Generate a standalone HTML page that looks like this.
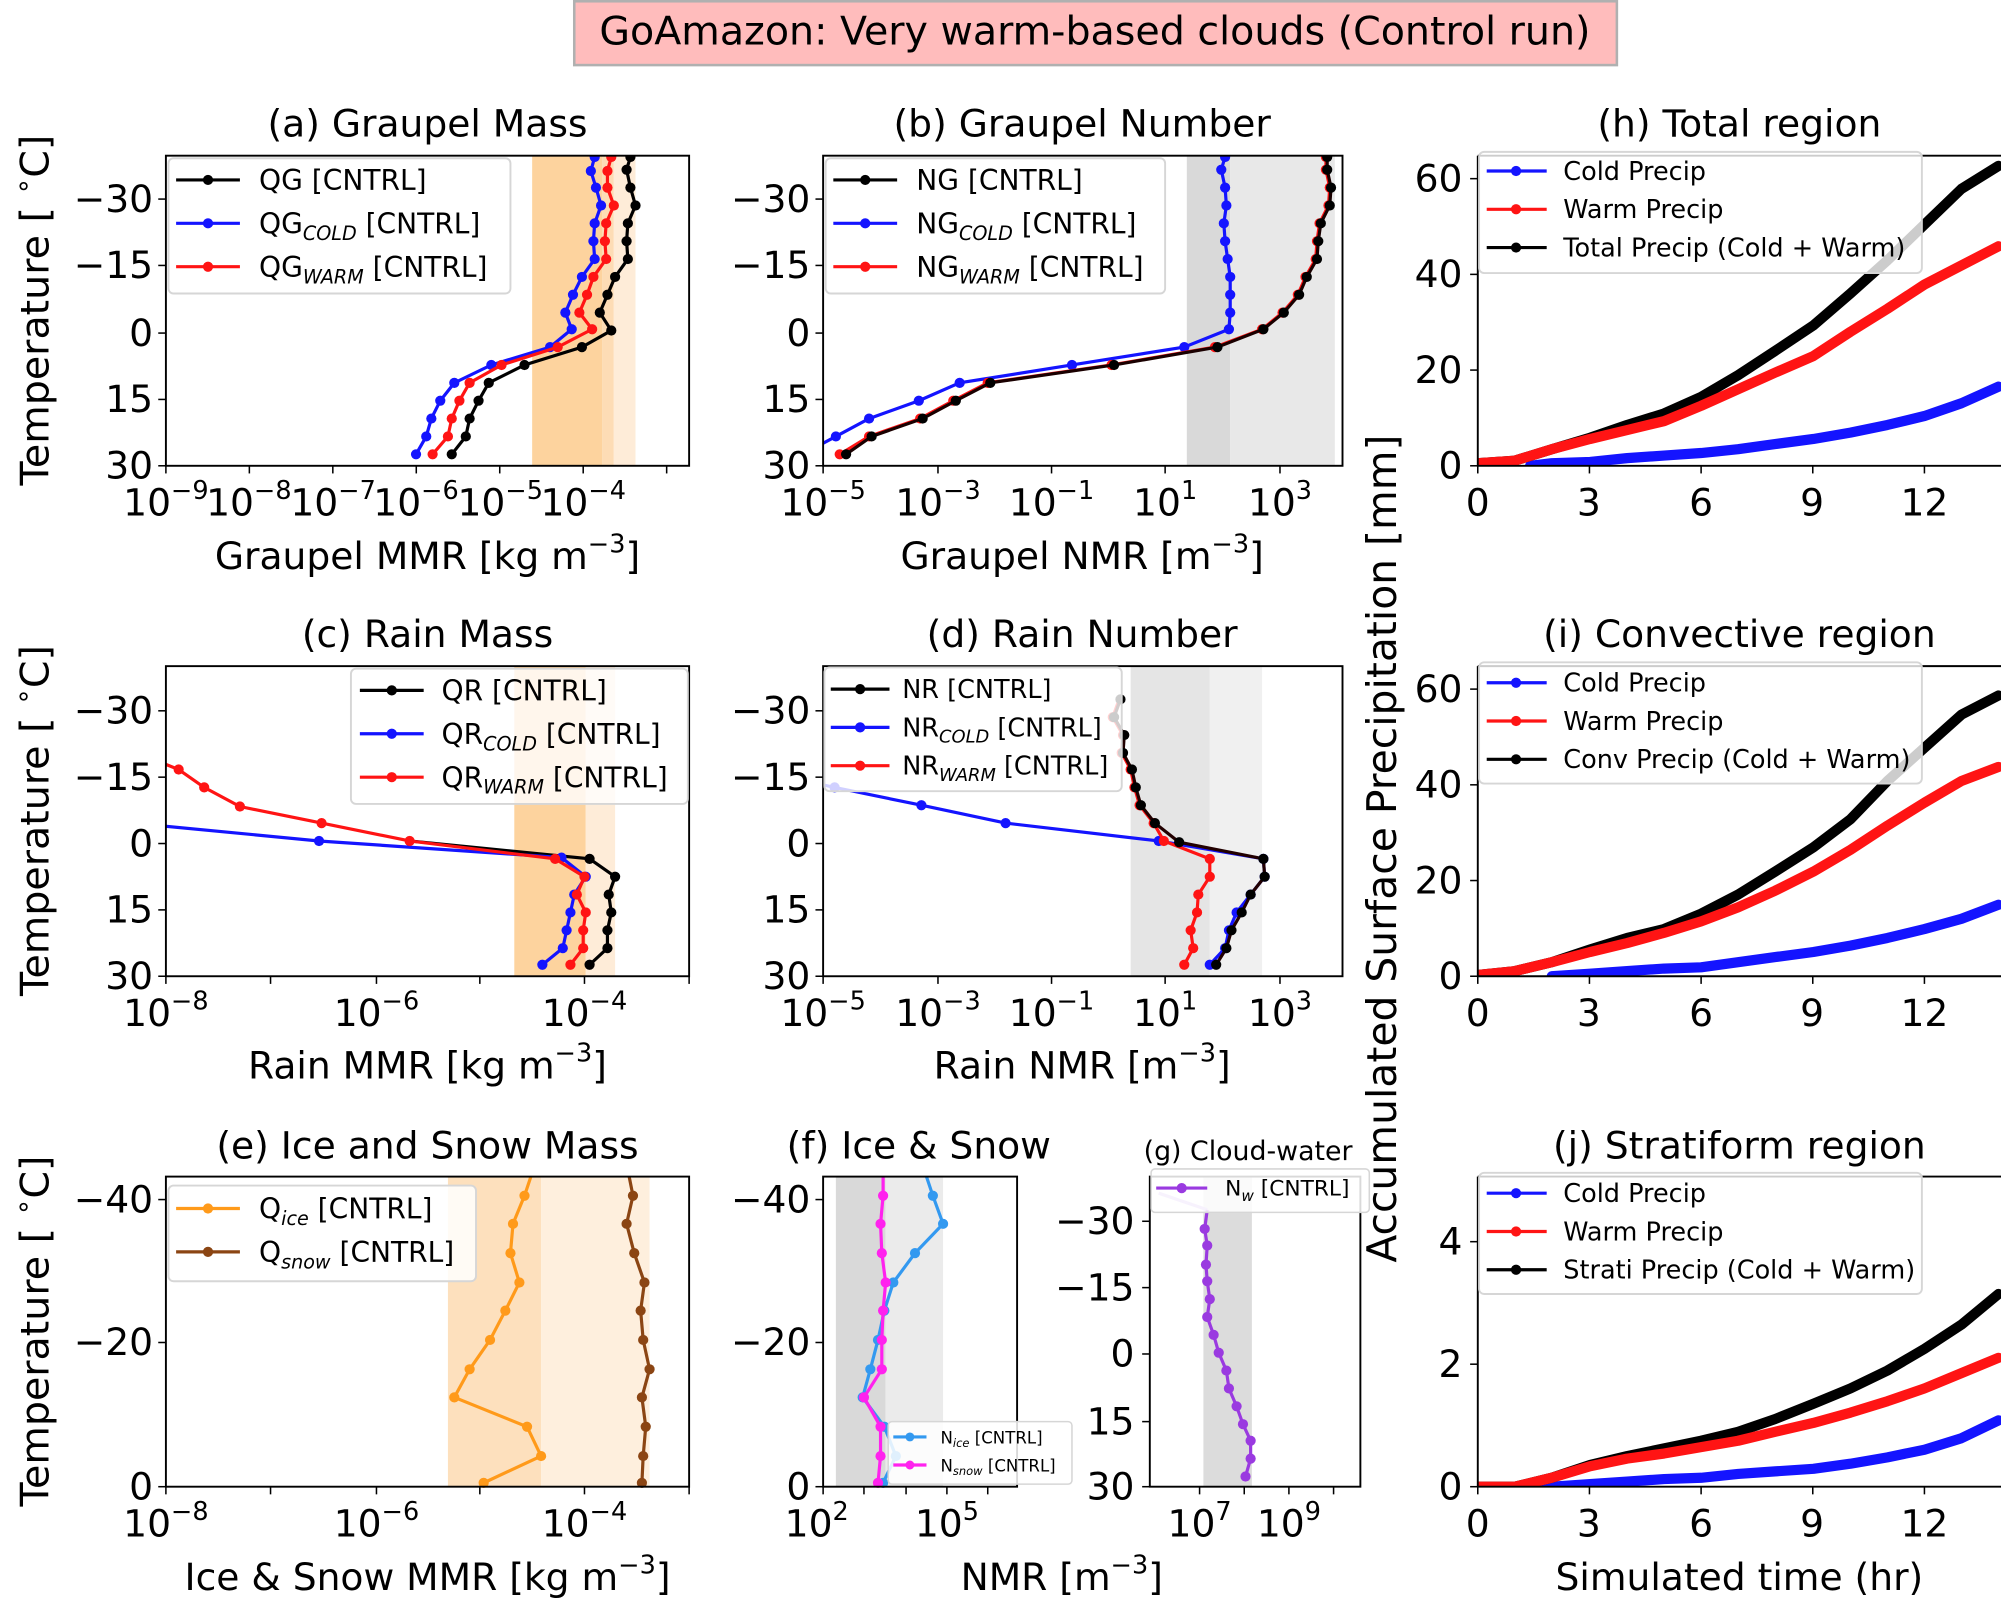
<!DOCTYPE html>
<html><head><meta charset="utf-8"><style>html,body{margin:0;padding:0;background:#fff}svg{display:block}</style></head>
<body>
<svg width="2001" height="1599" viewBox="0 0 1568 1253" preserveAspectRatio="none" xmlns="http://www.w3.org/2000/svg" font-family="'DejaVu Sans','Liberation Sans',sans-serif">
<defs>
<marker id="mK" markerUnits="userSpaceOnUse" markerWidth="10" markerHeight="10" refX="5" refY="5"><circle cx="5" cy="5" r="4" fill="#000"/></marker>
<marker id="mB" markerUnits="userSpaceOnUse" markerWidth="10" markerHeight="10" refX="5" refY="5"><circle cx="5" cy="5" r="4" fill="#1414ff"/></marker>
<marker id="mR" markerUnits="userSpaceOnUse" markerWidth="10" markerHeight="10" refX="5" refY="5"><circle cx="5" cy="5" r="4" fill="#ff1414"/></marker>
<marker id="mO" markerUnits="userSpaceOnUse" markerWidth="10" markerHeight="10" refX="5" refY="5"><circle cx="5" cy="5" r="4" fill="#ff9a1a"/></marker>
<marker id="mN" markerUnits="userSpaceOnUse" markerWidth="10" markerHeight="10" refX="5" refY="5"><circle cx="5" cy="5" r="4" fill="#8b4513"/></marker>
<marker id="mD" markerUnits="userSpaceOnUse" markerWidth="10" markerHeight="10" refX="5" refY="5"><circle cx="5" cy="5" r="4" fill="#3399f0"/></marker>
<marker id="mM" markerUnits="userSpaceOnUse" markerWidth="10" markerHeight="10" refX="5" refY="5"><circle cx="5" cy="5" r="4" fill="#ff22ee"/></marker>
<marker id="mP" markerUnits="userSpaceOnUse" markerWidth="10" markerHeight="10" refX="5" refY="5"><circle cx="5" cy="5" r="4" fill="#9a3ae0"/></marker>
<clipPath id="ca"><rect x="130" y="122" width="410" height="243"/></clipPath>
<clipPath id="cb"><rect x="645" y="122" width="407" height="243"/></clipPath>
<clipPath id="cc"><rect x="130" y="522" width="410" height="243"/></clipPath>
<clipPath id="cd"><rect x="645" y="522" width="407" height="243"/></clipPath>
<clipPath id="ch"><rect x="1158" y="122" width="410" height="243"/></clipPath>
<clipPath id="ci"><rect x="1158" y="522" width="410" height="243"/></clipPath>
<clipPath id="cj"><rect x="1158" y="922" width="410" height="243"/></clipPath>
</defs>

<!-- Suptitle -->
<rect x="450" y="1" width="817" height="50" fill="#ffbcbc" stroke="#b0b0b0" stroke-width="2"/>
<text x="858" y="35" font-size="31" text-anchor="middle">GoAmazon: Very warm-based clouds (Control run)</text>

<g font-size="29.5" fill="#000">
<!-- ============ (a) ============ -->
<text x="335" y="107" text-anchor="middle">(a) Graupel Mass</text>
<rect x="417" y="122" width="55" height="243" fill="#fdd39e"/>
<rect x="472" y="122" width="9" height="243" fill="#fddcb5"/>
<rect x="481" y="122" width="17" height="243" fill="#feecd8"/>
<g clip-path="url(#ca)" fill="none" stroke-width="2.5">
<polyline stroke="#1414ff" marker-start="url(#mB)" marker-mid="url(#mB)" marker-end="url(#mB)" points="466,123 463,134 467,147 471,161 466,175 465,189 466,203 456,217 449,231 443,245 448,258 431,272 385,286 356,300 345,314 338,328 334,342 326,356"/>
<polyline stroke="#ff1414" marker-start="url(#mR)" marker-mid="url(#mR)" marker-end="url(#mR)" points="479,123 476,134 476,147 481,161 475,175 474,189 475,203 465,217 460,231 454,245 464,258 437,272 393,286 368,300 360,314 354,328 351,342 339,356"/>
<polyline stroke="#000" marker-start="url(#mK)" marker-mid="url(#mK)" marker-end="url(#mK)" points="494,123 491,133 494,147 498,161 492,175 491,189 492,203 482,217 476,231 470,245 479,259 456,272 411,286 383,300 375,314 368,328 365,342 354,356"/>
</g>
<rect x="130" y="122" width="410" height="243" fill="none" stroke="#000" stroke-width="1.5"/>
<g stroke="#000" stroke-width="1.2"><line x1="124" y1="156" x2="130" y2="156"/><line x1="124" y1="208" x2="130" y2="208"/><line x1="124" y1="261" x2="130" y2="261"/><line x1="124" y1="313" x2="130" y2="313"/><line x1="124" y1="365" x2="130" y2="365"/>
<line x1="130" y1="365" x2="130" y2="371"/><line x1="195.4" y1="365" x2="195.4" y2="371"/><line x1="260.8" y1="365" x2="260.8" y2="371"/><line x1="326.2" y1="365" x2="326.2" y2="371"/><line x1="391.6" y1="365" x2="391.6" y2="371"/><line x1="457" y1="365" x2="457" y2="371"/><line x1="522.4" y1="365" x2="522.4" y2="371"/></g>
<g text-anchor="end"><text x="120" y="166">−30</text><text x="120" y="218">−15</text><text x="120" y="271">0</text><text x="120" y="323">15</text><text x="120" y="375">30</text></g>
<g text-anchor="middle"><text x="130" y="404">10<tspan font-size="20" dy="-13">−9</tspan></text><text x="195" y="404">10<tspan font-size="20" dy="-13">−8</tspan></text><text x="261" y="404">10<tspan font-size="20" dy="-13">−7</tspan></text><text x="326" y="404">10<tspan font-size="20" dy="-13">−6</tspan></text><text x="392" y="404">10<tspan font-size="20" dy="-13">−5</tspan></text><text x="457" y="404">10<tspan font-size="20" dy="-13">−4</tspan></text></g>
<text x="335" y="446" text-anchor="middle">Graupel MMR [kg m<tspan font-size="20" dy="-13">−3</tspan><tspan dy="13">]</tspan></text>
<text transform="translate(38,243) rotate(-90)" text-anchor="middle" font-size="31">Temperature [ <tspan font-size="21" dy="-13">∘</tspan><tspan dy="13">C]</tspan></text>
<rect x="132" y="124" width="268" height="106" rx="4" fill="#fff" fill-opacity="0.85" stroke="#d6d6d6" stroke-width="1.5"/>
<g font-size="22">
<line x1="138" y1="141" x2="188" y2="141" stroke="#000" stroke-width="2.5"/><circle cx="163" cy="141" r="4"/>
<text x="203" y="149">QG [CNTRL]</text>
<line x1="138" y1="175" x2="188" y2="175" stroke="#1414ff" stroke-width="2.5"/><circle cx="163" cy="175" r="4" fill="#1414ff"/>
<text x="203" y="183">QG<tspan font-size="15" font-style="italic" dy="5">COLD</tspan><tspan dy="-5"> [CNTRL]</tspan></text>
<line x1="138" y1="209" x2="188" y2="209" stroke="#ff1414" stroke-width="2.5"/><circle cx="163" cy="209" r="4" fill="#ff1414"/>
<text x="203" y="217">QG<tspan font-size="15" font-style="italic" dy="5">WARM</tspan><tspan dy="-5"> [CNTRL]</tspan></text>
</g>

<!-- ============ (b) ============ -->
<text x="848" y="107" text-anchor="middle">(b) Graupel Number</text>
<rect x="930" y="122" width="34" height="243" fill="#d9d9d9"/>
<rect x="964" y="122" width="82" height="243" fill="#e8e8e8"/>
<g clip-path="url(#cb)" fill="none" stroke-width="2.5">
<polyline stroke="#1414ff" marker-start="url(#mB)" marker-mid="url(#mB)" points="960,123 957,133 960,147 961,161 959,175 960,189 962,203 964,217 964,231 964,245 963,258 928,272 840,286 752,300 720,314 681,328 655,342 640,350"/>
<polyline stroke="#ff1414" marker-start="url(#mR)" marker-mid="url(#mR)" marker-end="url(#mR)" points="1039,123 1039,133 1042,147 1041,161 1034,175 1032,189 1031,203 1023,217 1017,231 1005,245 989,258 952,272 871,286 774,300 747,314 721,328 681,342 658,356"/>
<polyline stroke="#1a0000" marker-start="url(#mK)" marker-mid="url(#mK)" marker-end="url(#mK)" points="1040,123 1040,133 1043,147 1042,161 1035,175 1033,189 1032,203 1024,217 1018,231 1006,245 990,258 954,272 873,286 776,300 749,314 723,328 683,342 663,356"/>
</g>
<rect x="645" y="122" width="407" height="243" fill="none" stroke="#000" stroke-width="1.5"/>
<g stroke="#000" stroke-width="1.2"><line x1="639" y1="156" x2="645" y2="156"/><line x1="639" y1="208" x2="645" y2="208"/><line x1="639" y1="261" x2="645" y2="261"/><line x1="639" y1="313" x2="645" y2="313"/><line x1="639" y1="365" x2="645" y2="365"/>
<line x1="645" y1="365" x2="645" y2="371"/><line x1="735" y1="365" x2="735" y2="371"/><line x1="824" y1="365" x2="824" y2="371"/><line x1="913" y1="365" x2="913" y2="371"/><line x1="1003" y1="365" x2="1003" y2="371"/></g>
<g text-anchor="end"><text x="635" y="166">−30</text><text x="635" y="218">−15</text><text x="635" y="271">0</text><text x="635" y="323">15</text><text x="635" y="375">30</text></g>
<g text-anchor="middle"><text x="645" y="404">10<tspan font-size="20" dy="-13">−5</tspan></text><text x="735" y="404">10<tspan font-size="20" dy="-13">−3</tspan></text><text x="824" y="404">10<tspan font-size="20" dy="-13">−1</tspan></text><text x="913" y="404">10<tspan font-size="20" dy="-13">1</tspan></text><text x="1003" y="404">10<tspan font-size="20" dy="-13">3</tspan></text></g>
<text x="848" y="446" text-anchor="middle">Graupel NMR [m<tspan font-size="20" dy="-13">−3</tspan><tspan dy="13">]</tspan></text>
<rect x="647" y="124" width="266" height="106" rx="4" fill="#fff" fill-opacity="0.85" stroke="#d6d6d6" stroke-width="1.5"/>
<g font-size="22">
<line x1="653" y1="141" x2="703" y2="141" stroke="#000" stroke-width="2.5"/><circle cx="678" cy="141" r="4"/>
<text x="718" y="149">NG [CNTRL]</text>
<line x1="653" y1="175" x2="703" y2="175" stroke="#1414ff" stroke-width="2.5"/><circle cx="678" cy="175" r="4" fill="#1414ff"/>
<text x="718" y="183">NG<tspan font-size="15" font-style="italic" dy="5">COLD</tspan><tspan dy="-5"> [CNTRL]</tspan></text>
<line x1="653" y1="209" x2="703" y2="209" stroke="#ff1414" stroke-width="2.5"/><circle cx="678" cy="209" r="4" fill="#ff1414"/>
<text x="718" y="217">NG<tspan font-size="15" font-style="italic" dy="5">WARM</tspan><tspan dy="-5"> [CNTRL]</tspan></text>
</g>

<!-- ============ (c) ============ -->
<text x="335" y="507" text-anchor="middle">(c) Rain Mass</text>
<rect x="403" y="522" width="56" height="243" fill="#fdd39e"/>
<rect x="459" y="522" width="23" height="243" fill="#feecd8"/>
<g clip-path="url(#cc)" fill="none" stroke-width="2.5">
<polyline stroke="#000" marker-mid="url(#mK)" marker-end="url(#mK)" points="321,659 462,673 482,687 477,701 479,715 476,729 476,743 462,756"/>
<polyline stroke="#1414ff" marker-mid="url(#mB)" marker-end="url(#mB)" points="125,647 250,659 440,672 459,687 450,701 447,715 444,729 441,743 425,756"/>
<polyline stroke="#ff1414" marker-mid="url(#mR)" marker-end="url(#mR)" points="125,597 140,603 160,617 188,632 252,645 321,659 435,673 458,687 452,701 459,715 457,729 457,743 447,756"/>
</g>
<rect x="130" y="522" width="410" height="243" fill="none" stroke="#000" stroke-width="1.5"/>
<g stroke="#000" stroke-width="1.2"><line x1="124" y1="557" x2="130" y2="557"/><line x1="124" y1="609" x2="130" y2="609"/><line x1="124" y1="661" x2="130" y2="661"/><line x1="124" y1="713" x2="130" y2="713"/><line x1="124" y1="765" x2="130" y2="765"/>
<line x1="130" y1="765" x2="130" y2="771"/><line x1="212" y1="765" x2="212" y2="771"/><line x1="295" y1="765" x2="295" y2="771"/><line x1="376" y1="765" x2="376" y2="771"/><line x1="458" y1="765" x2="458" y2="771"/><line x1="540" y1="765" x2="540" y2="771"/></g>
<g text-anchor="end"><text x="120" y="567">−30</text><text x="120" y="619">−15</text><text x="120" y="671">0</text><text x="120" y="723">15</text><text x="120" y="775">30</text></g>
<g text-anchor="middle"><text x="130" y="804">10<tspan font-size="20" dy="-13">−8</tspan></text><text x="295" y="804">10<tspan font-size="20" dy="-13">−6</tspan></text><text x="458" y="804">10<tspan font-size="20" dy="-13">−4</tspan></text></g>
<text x="335" y="845" text-anchor="middle">Rain MMR [kg m<tspan font-size="20" dy="-13">−3</tspan><tspan dy="13">]</tspan></text>
<text transform="translate(38,643) rotate(-90)" text-anchor="middle" font-size="31">Temperature [ <tspan font-size="21" dy="-13">∘</tspan><tspan dy="13">C]</tspan></text>
<rect x="275" y="524" width="264" height="106" rx="4" fill="#fff" fill-opacity="0.8" stroke="#d6d6d6" stroke-width="1.5"/>
<g font-size="22">
<line x1="282" y1="541" x2="332" y2="541" stroke="#000" stroke-width="2.5"/><circle cx="307" cy="541" r="4"/>
<text x="346" y="549">QR [CNTRL]</text>
<line x1="282" y1="575" x2="332" y2="575" stroke="#1414ff" stroke-width="2.5"/><circle cx="307" cy="575" r="4" fill="#1414ff"/>
<text x="346" y="583">QR<tspan font-size="15" font-style="italic" dy="5">COLD</tspan><tspan dy="-5"> [CNTRL]</tspan></text>
<line x1="282" y1="609" x2="332" y2="609" stroke="#ff1414" stroke-width="2.5"/><circle cx="307" cy="609" r="4" fill="#ff1414"/>
<text x="346" y="617">QR<tspan font-size="15" font-style="italic" dy="5">WARM</tspan><tspan dy="-5"> [CNTRL]</tspan></text>
</g>

<!-- ============ (d) ============ -->
<text x="848" y="507" text-anchor="middle">(d) Rain Number</text>
<rect x="886" y="522" width="62" height="243" fill="#e5e5e5"/>
<rect x="948" y="522" width="41" height="243" fill="#f0f0f0"/>
<g clip-path="url(#cd)" fill="none" stroke-width="2.5">
<polyline stroke="#1414ff" marker-mid="url(#mB)" marker-end="url(#mB)" points="640,614 654,617 722,631 788,645 908,659 990,673 991,687 980,701 969,715 963,729 960,743 948,756"/>
<polyline stroke="#ff1414" marker-mid="url(#mR)" marker-end="url(#mR)" points="877,548 872,562 880,576 879,590 886,603 889,617 893,631 904,645 912,659 948,673 948,687 939,701 938,715 933,729 935,743 928,756"/>
<polyline stroke="#220000" marker-start="url(#mK)" marker-mid="url(#mK)" marker-end="url(#mK)" points="878,548 873,562 881,576 880,590 887,603 890,617 894,631 905,645 924,660 990,673 991,687 980,701 973,715 965,729 961,743 953,756"/>
</g>
<rect x="645" y="522" width="407" height="243" fill="none" stroke="#000" stroke-width="1.5"/>
<g stroke="#000" stroke-width="1.2"><line x1="639" y1="557" x2="645" y2="557"/><line x1="639" y1="609" x2="645" y2="609"/><line x1="639" y1="661" x2="645" y2="661"/><line x1="639" y1="713" x2="645" y2="713"/><line x1="639" y1="765" x2="645" y2="765"/>
<line x1="645" y1="765" x2="645" y2="771"/><line x1="735" y1="765" x2="735" y2="771"/><line x1="824" y1="765" x2="824" y2="771"/><line x1="913" y1="765" x2="913" y2="771"/><line x1="1003" y1="765" x2="1003" y2="771"/></g>
<g text-anchor="end"><text x="635" y="567">−30</text><text x="635" y="619">−15</text><text x="635" y="671">0</text><text x="635" y="723">15</text><text x="635" y="775">30</text></g>
<g text-anchor="middle"><text x="645" y="804">10<tspan font-size="20" dy="-13">−5</tspan></text><text x="735" y="804">10<tspan font-size="20" dy="-13">−3</tspan></text><text x="824" y="804">10<tspan font-size="20" dy="-13">−1</tspan></text><text x="913" y="804">10<tspan font-size="20" dy="-13">1</tspan></text><text x="1003" y="804">10<tspan font-size="20" dy="-13">3</tspan></text></g>
<text x="848" y="845" text-anchor="middle">Rain NMR [m<tspan font-size="20" dy="-13">−3</tspan><tspan dy="13">]</tspan></text>
<rect x="646" y="523" width="233" height="97" rx="4" fill="#fff" fill-opacity="0.8" stroke="#d6d6d6" stroke-width="1.5"/>
<g font-size="20">
<line x1="651" y1="540" x2="697" y2="540" stroke="#000" stroke-width="2.5"/><circle cx="674" cy="540" r="4"/>
<text x="707" y="547">NR [CNTRL]</text>
<line x1="651" y1="570" x2="697" y2="570" stroke="#1414ff" stroke-width="2.5"/><circle cx="674" cy="570" r="4" fill="#1414ff"/>
<text x="707" y="577">NR<tspan font-size="14" font-style="italic" dy="5">COLD</tspan><tspan dy="-5"> [CNTRL]</tspan></text>
<line x1="651" y1="600" x2="697" y2="600" stroke="#ff1414" stroke-width="2.5"/><circle cx="674" cy="600" r="4" fill="#ff1414"/>
<text x="707" y="607">NR<tspan font-size="14" font-style="italic" dy="5">WARM</tspan><tspan dy="-5"> [CNTRL]</tspan></text>
</g>

<!-- ============ (e) ============ -->
<text x="335" y="908" text-anchor="middle">(e) Ice and Snow Mass</text>
<rect x="351" y="922" width="73" height="243" fill="#fde0bd"/>
<rect x="424" y="922" width="85" height="243" fill="#feefdd"/>
<g fill="none" stroke-width="2.5">
<polyline stroke="#ff9a1a" marker-mid="url(#mO)" marker-end="url(#mO)" points="416,922 411,937 402,959 400,982 407,1005 396,1027 384,1050 368,1073 356,1095 413,1118 424,1141 379,1162"/>
<polyline stroke="#8b4513" marker-mid="url(#mN)" marker-end="url(#mN)" points="493,922 496,937 491,959 497,982 505,1005 502,1027 504,1050 509,1073 503,1095 506,1118 504,1141 503,1162"/>
</g>
<rect x="130" y="922" width="410" height="243" fill="none" stroke="#000" stroke-width="1.5"/>
<g stroke="#000" stroke-width="1.2"><line x1="124" y1="940" x2="130" y2="940"/><line x1="124" y1="1052" x2="130" y2="1052"/><line x1="124" y1="1165" x2="130" y2="1165"/>
<line x1="130" y1="1165" x2="130" y2="1171"/><line x1="212" y1="1165" x2="212" y2="1171"/><line x1="295" y1="1165" x2="295" y2="1171"/><line x1="376" y1="1165" x2="376" y2="1171"/><line x1="458" y1="1165" x2="458" y2="1171"/><line x1="540" y1="1165" x2="540" y2="1171"/></g>
<g text-anchor="end"><text x="120" y="950">−40</text><text x="120" y="1062">−20</text><text x="120" y="1175">0</text></g>
<g text-anchor="middle"><text x="130" y="1204">10<tspan font-size="20" dy="-13">−8</tspan></text><text x="295" y="1204">10<tspan font-size="20" dy="-13">−6</tspan></text><text x="458" y="1204">10<tspan font-size="20" dy="-13">−4</tspan></text></g>
<text x="335" y="1246" text-anchor="middle">Ice &amp; Snow MMR [kg m<tspan font-size="20" dy="-13">−3</tspan><tspan dy="13">]</tspan></text>
<text transform="translate(38,1043) rotate(-90)" text-anchor="middle" font-size="31">Temperature [ <tspan font-size="21" dy="-13">∘</tspan><tspan dy="13">C]</tspan></text>
<rect x="132" y="929" width="241" height="75" rx="4" fill="#fff" fill-opacity="0.85" stroke="#d6d6d6" stroke-width="1.5"/>
<g font-size="22">
<line x1="138" y1="947" x2="188" y2="947" stroke="#ff9a1a" stroke-width="2.5"/><circle cx="163" cy="947" r="4" fill="#ff9a1a"/>
<text x="203" y="955">Q<tspan font-size="15" font-style="italic" dy="5">ice</tspan><tspan dy="-5"> [CNTRL]</tspan></text>
<line x1="138" y1="981" x2="188" y2="981" stroke="#8b4513" stroke-width="2.5"/><circle cx="163" cy="981" r="4" fill="#8b4513"/>
<text x="203" y="989">Q<tspan font-size="15" font-style="italic" dy="5">snow</tspan><tspan dy="-5"> [CNTRL]</tspan></text>
</g>

<!-- ============ (f) ============ -->
<text x="720" y="908" text-anchor="middle">(f) Ice &amp; Snow</text>
<rect x="655" y="922" width="39" height="243" fill="#d9d9d9"/>
<rect x="694" y="922" width="45" height="243" fill="#ebebeb"/>
<g fill="none" stroke-width="2.5">
<polyline stroke="#3399f0" marker-mid="url(#mD)" marker-end="url(#mD)" points="726,922 731,937 739,959 717,982 700,1005 693,1027 688,1050 682,1073 676,1095 693,1118 702,1141 692,1162"/>
<polyline stroke="#ff22ee" marker-mid="url(#mM)" marker-end="url(#mM)" points="692,922 692,937 690,959 691,982 694,1005 692,1027 691,1050 691,1073 677,1095 690,1118 690,1141 688,1162"/>
</g>
<rect x="645" y="922" width="152" height="243" fill="none" stroke="#000" stroke-width="1.5"/>
<g stroke="#000" stroke-width="1.2"><line x1="639" y1="940" x2="645" y2="940"/><line x1="639" y1="1052" x2="645" y2="1052"/><line x1="639" y1="1165" x2="645" y2="1165"/>
<line x1="645" y1="1165" x2="645" y2="1171"/><line x1="677" y1="1165" x2="677" y2="1171"/><line x1="710" y1="1165" x2="710" y2="1171"/><line x1="742" y1="1165" x2="742" y2="1171"/><line x1="774" y1="1165" x2="774" y2="1171"/></g>
<g text-anchor="end"><text x="635" y="950">−40</text><text x="635" y="1062">−20</text><text x="635" y="1175">0</text></g>
<g text-anchor="middle"><text x="640" y="1204">10<tspan font-size="20" dy="-13">2</tspan></text><text x="742" y="1204">10<tspan font-size="20" dy="-13">5</tspan></text></g>
<text x="832" y="1246" text-anchor="middle">NMR [m<tspan font-size="20" dy="-13">−3</tspan><tspan dy="13">]</tspan></text>
<rect x="696" y="1114" width="144" height="49" rx="3" fill="#fff" fill-opacity="0.85" stroke="#d6d6d6" stroke-width="1.2"/>
<g font-size="13">
<line x1="700" y1="1126" x2="726" y2="1126" stroke="#3399f0" stroke-width="2.5"/><circle cx="713" cy="1126" r="3.5" fill="#3399f0"/>
<text x="737" y="1131">N<tspan font-size="9" font-style="italic" dy="3">ice</tspan><tspan dy="-3"> [CNTRL]</tspan></text>
<line x1="700" y1="1148" x2="726" y2="1148" stroke="#ff22ee" stroke-width="2.5"/><circle cx="713" cy="1148" r="3.5" fill="#ff22ee"/>
<text x="737" y="1153">N<tspan font-size="9" font-style="italic" dy="3">snow</tspan><tspan dy="-3"> [CNTRL]</tspan></text>
</g>

<!-- ============ (g) ============ -->
<text x="978" y="909" text-anchor="middle" font-size="21">(g) Cloud-water</text>
<rect x="943" y="922" width="38" height="243" fill="#dcdcdc"/>
<g fill="none" stroke-width="2.5">
<polyline stroke="#c8a8f0" points="908,935 946,948"/>
<polyline stroke="#9a3ae0" marker-mid="url(#mP)" marker-end="url(#mP)" points="946,948 944,963 946,976 945,991 946,1004 948,1018 946,1032 951,1046 955,1060 961,1074 963,1088 969,1102 974,1116 980,1129 980,1143 976,1157"/>
</g>
<rect x="901" y="922" width="165" height="243" fill="none" stroke="#000" stroke-width="1.5"/>
<g stroke="#000" stroke-width="1.2"><line x1="895" y1="957" x2="901" y2="957"/><line x1="895" y1="1009" x2="901" y2="1009"/><line x1="895" y1="1061" x2="901" y2="1061"/><line x1="895" y1="1114" x2="901" y2="1114"/><line x1="895" y1="1165" x2="901" y2="1165"/>
<line x1="940" y1="1165" x2="940" y2="1171"/><line x1="975" y1="1165" x2="975" y2="1171"/><line x1="1010" y1="1165" x2="1010" y2="1171"/><line x1="1045" y1="1165" x2="1045" y2="1171"/></g>
<g text-anchor="end"><text x="889" y="967">−30</text><text x="889" y="1019">−15</text><text x="889" y="1071">0</text><text x="889" y="1124">15</text><text x="889" y="1175">30</text></g>
<g text-anchor="middle"><text x="940" y="1204">10<tspan font-size="20" dy="-13">7</tspan></text><text x="1010" y="1204">10<tspan font-size="20" dy="-13">9</tspan></text></g>
<rect x="902" y="916" width="171" height="34" rx="3" fill="#fff" fill-opacity="0.85" stroke="#d6d6d6" stroke-width="1.2"/>
<line x1="906" y1="931" x2="946" y2="931" stroke="#9a3ae0" stroke-width="2.5"/><circle cx="926" cy="931" r="4" fill="#9a3ae0"/>
<text x="960" y="937" font-size="17">N<tspan font-size="12" font-style="italic" dy="4">w</tspan><tspan dy="-4"> [CNTRL]</tspan></text>

<!-- Big y label -->
<text transform="translate(1094,665) rotate(-90)" text-anchor="middle" font-size="32">Accumulated Surface Precipitation [mm]</text>

<!-- ============ (h) ============ -->
<text x="1363" y="107" text-anchor="middle">(h) Total region</text>
<g clip-path="url(#ch)" fill="none" stroke-width="8" stroke-linejoin="round" stroke-linecap="round">
<polyline stroke="#1414ff" points="1199,365 1216,363 1246,362 1275,359 1304,357 1333,355 1362,352 1391,348 1421,344 1450,339 1479,333 1508,326 1537,316 1566,303"/>
<polyline stroke="#000" points="1158,363 1187,361 1216,352 1246,343 1275,333 1304,324 1333,311 1362,294 1391,275 1421,255 1450,230 1479,204 1508,176 1537,148 1566,130"/>
<polyline stroke="#ff1414" points="1158,363 1187,361 1216,352 1246,344 1275,337 1304,330 1333,318 1362,305 1391,292 1421,279 1450,260 1479,242 1508,223 1537,208 1566,193"/>
</g>
<path d="M1158,122 V365 H1568" fill="none" stroke="#000" stroke-width="1.5"/><line x1="1158" y1="122" x2="1568" y2="122" stroke="#000" stroke-width="1.5"/>
<g stroke="#000" stroke-width="1.2"><line x1="1152" y1="140" x2="1158" y2="140"/><line x1="1152" y1="215" x2="1158" y2="215"/><line x1="1152" y1="290" x2="1158" y2="290"/><line x1="1152" y1="365" x2="1158" y2="365"/>
<line x1="1158" y1="365" x2="1158" y2="371"/><line x1="1245.5" y1="365" x2="1245.5" y2="371"/><line x1="1333" y1="365" x2="1333" y2="371"/><line x1="1420.5" y1="365" x2="1420.5" y2="371"/><line x1="1508" y1="365" x2="1508" y2="371"/></g>
<g text-anchor="end"><text x="1146" y="150">60</text><text x="1146" y="225">40</text><text x="1146" y="300">20</text><text x="1146" y="375">0</text></g>
<g text-anchor="middle"><text x="1158" y="404">0</text><text x="1245" y="404">3</text><text x="1333" y="404">6</text><text x="1420" y="404">9</text><text x="1508" y="404">12</text></g>
<rect x="1159" y="119" width="347" height="95" rx="4" fill="#fff" fill-opacity="0.8" stroke="#d6d6d6" stroke-width="1.5"/>
<g font-size="20">
<line x1="1165" y1="134" x2="1212" y2="134" stroke="#1414ff" stroke-width="2.5"/><circle cx="1188" cy="134" r="4" fill="#1414ff"/><text x="1225" y="141">Cold Precip</text>
<line x1="1165" y1="164" x2="1212" y2="164" stroke="#ff1414" stroke-width="2.5"/><circle cx="1188" cy="164" r="4" fill="#ff1414"/><text x="1225" y="171">Warm Precip</text>
<line x1="1165" y1="194" x2="1212" y2="194" stroke="#000" stroke-width="2.5"/><circle cx="1188" cy="194" r="4"/><text x="1225" y="201">Total Precip (Cold + Warm)</text>
</g>

<!-- ============ (i) ============ -->
<text x="1363" y="507" text-anchor="middle">(i) Convective region</text>
<g clip-path="url(#ci)" fill="none" stroke-width="8" stroke-linejoin="round" stroke-linecap="round">
<polyline stroke="#1414ff" points="1216,765 1246,763 1275,761 1304,759 1333,758 1362,754 1391,750 1421,746 1450,741 1479,735 1508,728 1537,720 1566,709"/>
<polyline stroke="#000" points="1158,764 1187,761 1216,754 1246,744 1275,735 1304,728 1333,716 1362,701 1391,683 1421,664 1450,642 1479,612 1508,586 1537,560 1566,545"/>
<polyline stroke="#ff1414" points="1158,764 1187,761 1216,754 1246,746 1275,739 1304,731 1333,722 1362,711 1391,698 1421,683 1450,666 1479,647 1508,629 1537,612 1566,601"/>
</g>
<path d="M1158,522 V765 H1568" fill="none" stroke="#000" stroke-width="1.5"/><line x1="1158" y1="522" x2="1568" y2="522" stroke="#000" stroke-width="1.5"/>
<g stroke="#000" stroke-width="1.2"><line x1="1152" y1="540" x2="1158" y2="540"/><line x1="1152" y1="615" x2="1158" y2="615"/><line x1="1152" y1="690" x2="1158" y2="690"/><line x1="1152" y1="765" x2="1158" y2="765"/>
<line x1="1158" y1="765" x2="1158" y2="771"/><line x1="1245.5" y1="765" x2="1245.5" y2="771"/><line x1="1333" y1="765" x2="1333" y2="771"/><line x1="1420.5" y1="765" x2="1420.5" y2="771"/><line x1="1508" y1="765" x2="1508" y2="771"/></g>
<g text-anchor="end"><text x="1146" y="550">60</text><text x="1146" y="625">40</text><text x="1146" y="700">20</text><text x="1146" y="775">0</text></g>
<g text-anchor="middle"><text x="1158" y="804">0</text><text x="1245" y="804">3</text><text x="1333" y="804">6</text><text x="1420" y="804">9</text><text x="1508" y="804">12</text></g>
<rect x="1159" y="519" width="347" height="95" rx="4" fill="#fff" fill-opacity="0.8" stroke="#d6d6d6" stroke-width="1.5"/>
<g font-size="20">
<line x1="1165" y1="535" x2="1212" y2="535" stroke="#1414ff" stroke-width="2.5"/><circle cx="1188" cy="535" r="4" fill="#1414ff"/><text x="1225" y="542">Cold Precip</text>
<line x1="1165" y1="565" x2="1212" y2="565" stroke="#ff1414" stroke-width="2.5"/><circle cx="1188" cy="565" r="4" fill="#ff1414"/><text x="1225" y="572">Warm Precip</text>
<line x1="1165" y1="595" x2="1212" y2="595" stroke="#000" stroke-width="2.5"/><circle cx="1188" cy="595" r="4"/><text x="1225" y="602">Conv Precip (Cold + Warm)</text>
</g>

<!-- ============ (j) ============ -->
<text x="1363" y="908" text-anchor="middle">(j) Stratiform region</text>
<g clip-path="url(#cj)" fill="none" stroke-width="8" stroke-linejoin="round" stroke-linecap="round">
<polyline stroke="#1414ff" points="1207,1165 1216,1165 1246,1163 1275,1161 1304,1159 1333,1158 1362,1155 1391,1153 1421,1151 1450,1147 1479,1142 1508,1136 1537,1127 1566,1113"/>
<polyline stroke="#000" points="1158,1165 1187,1165 1216,1158 1246,1148 1275,1141 1304,1135 1333,1129 1362,1122 1391,1112 1421,1100 1450,1088 1479,1074 1508,1057 1537,1038 1566,1014"/>
<polyline stroke="#ff1414" points="1158,1165 1187,1165 1216,1158 1246,1149 1275,1143 1304,1139 1333,1134 1362,1129 1391,1122 1421,1115 1450,1107 1479,1098 1508,1088 1537,1076 1566,1064"/>
</g>
<path d="M1158,922 V1165 H1568" fill="none" stroke="#000" stroke-width="1.5"/><line x1="1158" y1="922" x2="1568" y2="922" stroke="#000" stroke-width="1.5"/>
<g stroke="#000" stroke-width="1.2"><line x1="1152" y1="973" x2="1158" y2="973"/><line x1="1152" y1="1069" x2="1158" y2="1069"/><line x1="1152" y1="1165" x2="1158" y2="1165"/>
<line x1="1158" y1="1165" x2="1158" y2="1171"/><line x1="1245.5" y1="1165" x2="1245.5" y2="1171"/><line x1="1333" y1="1165" x2="1333" y2="1171"/><line x1="1420.5" y1="1165" x2="1420.5" y2="1171"/><line x1="1508" y1="1165" x2="1508" y2="1171"/></g>
<g text-anchor="end"><text x="1146" y="983">4</text><text x="1146" y="1079">2</text><text x="1146" y="1175">0</text></g>
<g text-anchor="middle"><text x="1158" y="1204">0</text><text x="1245" y="1204">3</text><text x="1333" y="1204">6</text><text x="1420" y="1204">9</text><text x="1508" y="1204">12</text></g>
<text x="1363" y="1246" text-anchor="middle">Simulated time (hr)</text>
<rect x="1159" y="919" width="347" height="95" rx="4" fill="#fff" fill-opacity="0.8" stroke="#d6d6d6" stroke-width="1.5"/>
<g font-size="20">
<line x1="1165" y1="935" x2="1212" y2="935" stroke="#1414ff" stroke-width="2.5"/><circle cx="1188" cy="935" r="4" fill="#1414ff"/><text x="1225" y="942">Cold Precip</text>
<line x1="1165" y1="965" x2="1212" y2="965" stroke="#ff1414" stroke-width="2.5"/><circle cx="1188" cy="965" r="4" fill="#ff1414"/><text x="1225" y="972">Warm Precip</text>
<line x1="1165" y1="995" x2="1212" y2="995" stroke="#000" stroke-width="2.5"/><circle cx="1188" cy="995" r="4"/><text x="1225" y="1002">Strati Precip (Cold + Warm)</text>
</g>
</g>
</svg>
</body></html>
